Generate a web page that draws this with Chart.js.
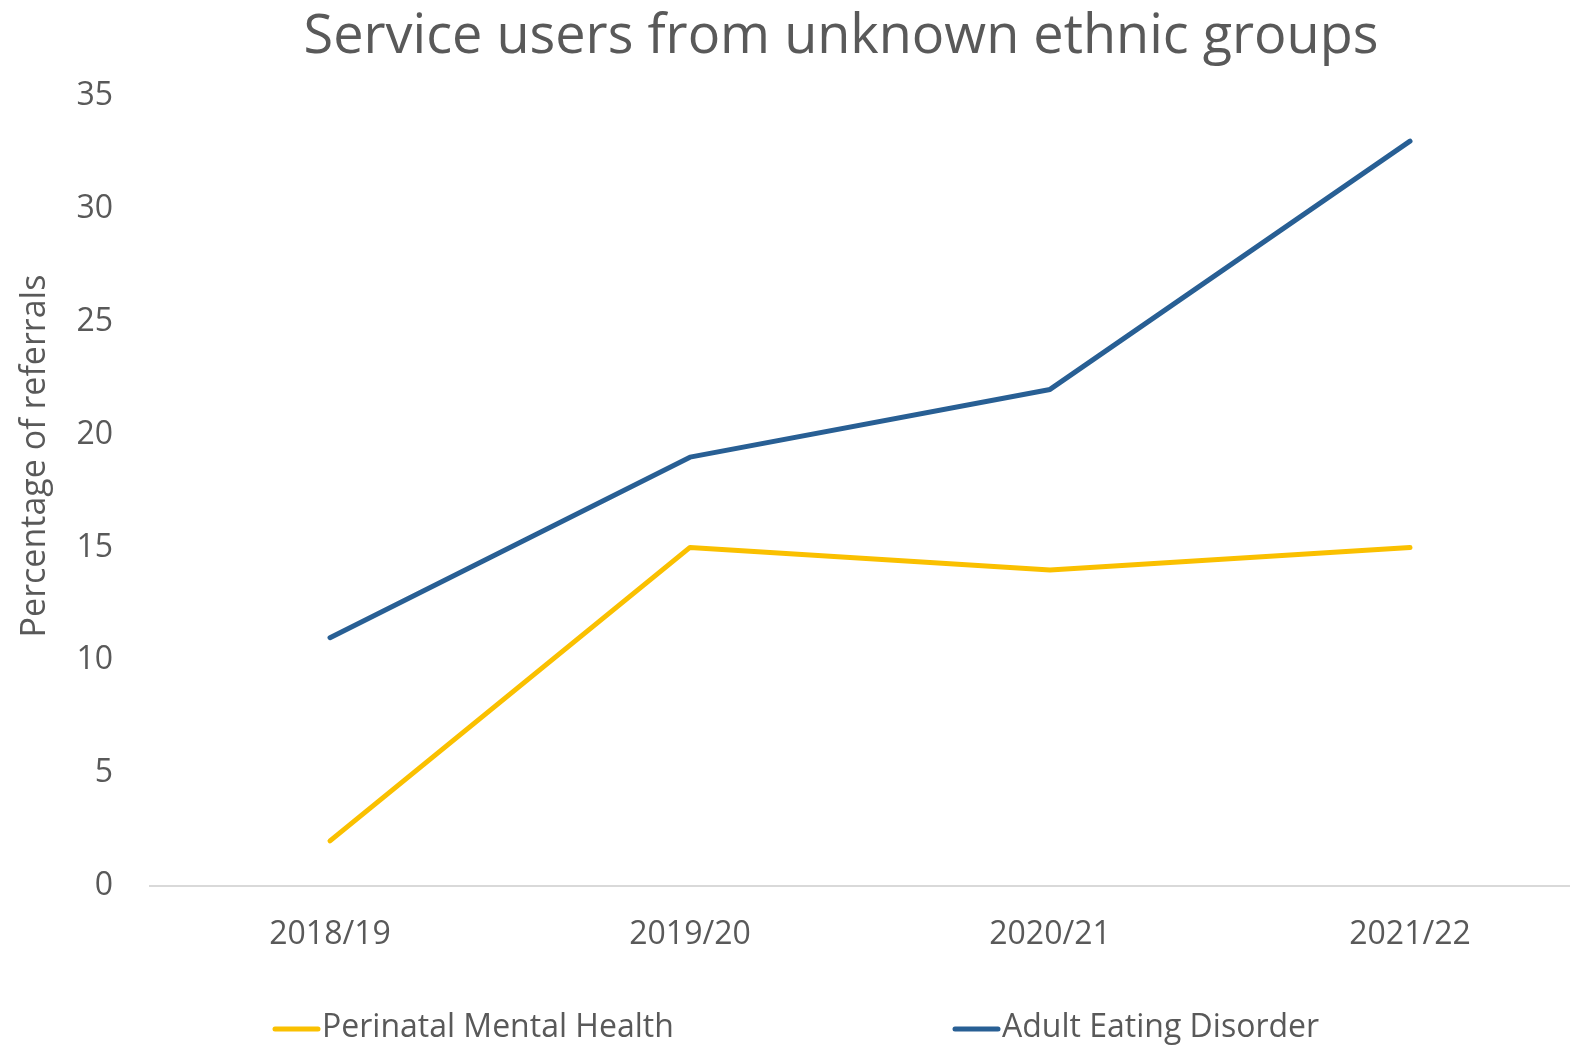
<!DOCTYPE html>
<html>
<head>
<meta charset="utf-8">
<title>Service users from unknown ethnic groups</title>
<script src="https://cdn.jsdelivr.net/npm/chart.js@4.4.0/dist/chart.umd.min.js"></script>
<style>
  html, body { margin: 0; padding: 0; background: #fff; overflow: hidden; }
  #wrap { width: 1570px; height: 1047px; overflow: hidden; }
</style>
</head>
<body>
<div id="wrap"><canvas id="chart" width="1600" height="1047"></canvas></div>
<script>
const years = ["2018/19", "2019/20", "2020/21", "2021/22"];
const perinatal = [2, 15, 14, 15];
const eatingDisorder = [11, 19, 22, 33];
const yTicks = [0, 5, 10, 15, 20, 25, 30, 35];

const textGrey = "#595959";
const font = "'Open Sans', 'Noto Sans', sans-serif";

// title, rotated y-axis title and a spaced-out legend row
const decorations = {
  id: "decorations",
  afterDraw(chart) {
    const ctx = chart.ctx;
    ctx.save();
    ctx.fillStyle = textGrey;

    ctx.font = "54px " + font;
    ctx.textAlign = "center";
    ctx.textBaseline = "alphabetic";
    ctx.fillText("Service users from unknown ethnic groups", 841, 53);

    ctx.save();
    ctx.translate(45, 456);
    ctx.rotate(-Math.PI / 2);
    ctx.font = "34px " + font;
    ctx.fillText("Percentage of referrals", 0, 0);
    ctx.restore();

    const legendX = [273, 953];
    ctx.font = "32px " + font;
    ctx.textAlign = "left";
    ctx.textBaseline = "middle";
    chart.data.datasets.forEach((ds, i) => {
      const x = legendX[i], y = 1029;
      ctx.strokeStyle = ds.borderColor;
      ctx.lineWidth = 5;
      ctx.lineCap = "round";
      ctx.beginPath();
      ctx.moveTo(x + 2, y);
      ctx.lineTo(x + 45, y);
      ctx.stroke();
      ctx.fillStyle = textGrey;
      ctx.fillText(ds.label, x + 49, y - 1);
    });
    ctx.restore();
  }
};

new Chart(document.getElementById("chart"), {
  type: "line",
  data: {
    labels: years,
    datasets: [
      {
        label: "Perinatal Mental Health",
        data: perinatal,
        borderColor: "#FAC000",
        backgroundColor: "#FAC000",
        borderWidth: 5,
        borderCapStyle: "round",
        borderJoinStyle: "round",
        pointRadius: 0,
        tension: 0
      },
      {
        label: "Adult Eating Disorder",
        data: eatingDisorder,
        borderColor: "#285F94",
        backgroundColor: "#285F94",
        borderWidth: 5,
        borderCapStyle: "round",
        borderJoinStyle: "round",
        pointRadius: 0,
        tension: 0
      }
    ]
  },
  options: {
    responsive: false,
    animation: false,
    layout: { padding: { top: 96, left: 0, right: 10, bottom: 61 } },
    plugins: {
      legend: { display: false },
      title: { display: false },
      tooltip: { enabled: false }
    },
    scales: {
      x: {
        offset: true,
        grid: { display: false, drawTicks: false },
        border: { display: true, color: "#D9D9D9", width: 2 },
        ticks: { color: textGrey, font: { family: font, size: 32 }, padding: 30 },
        afterFit(scale) { scale.height = 100; }
      },
      y: {
        min: 0,
        max: 35,
        afterBuildTicks(scale) { scale.ticks = yTicks.map(v => ({ value: v })); },
        grid: { display: false, drawTicks: false },
        border: { display: false },
        ticks: { color: textGrey, font: { family: font, size: 32 }, padding: 37 },
        afterFit(scale) { scale.width = 150; }
      }
    }
  },
  plugins: [decorations]
});
</script>
</body>
</html>
